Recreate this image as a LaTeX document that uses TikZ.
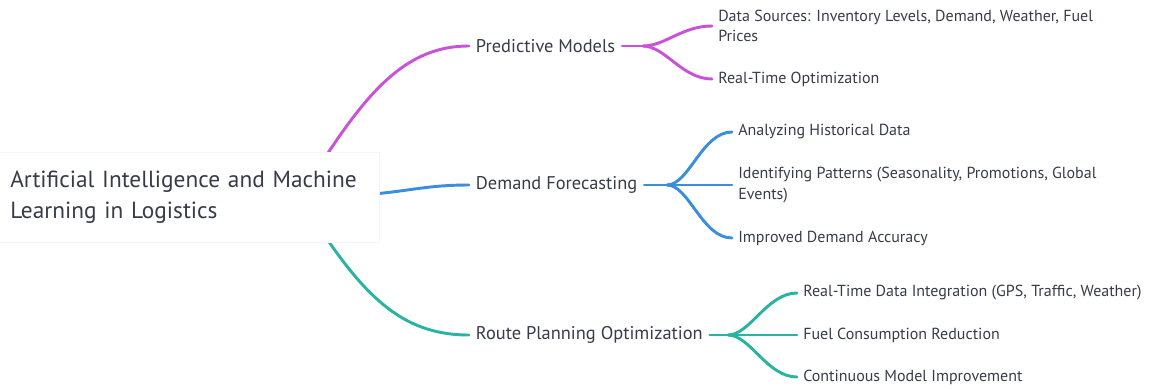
\documentclass[tikz,border=0pt]{standalone}
\usepackage{fontspec}
\setmainfont{PT Sans}
\usepackage{xcolor}
\usetikzlibrary{backgrounds}
\definecolor{txtgray}{HTML}{363C48}
\definecolor{pmcol}{HTML}{C852D8}
\definecolor{dfcol}{HTML}{3A8EDB}
\definecolor{rpcol}{HTML}{2AB3A0}
\tikzset{every node/.append style={text=txtgray, inner sep=0pt},
  rootbox/.style={anchor=west, fill=white, draw=gray!7, text width=268pt, align=left,
    inner xsep=9pt, minimum height=67.5pt, font=\fontsize{17.5}{23}\selectfont},
  topic/.style={anchor=west, inner xsep=5pt, font=\fontsize{13.8}{15}\selectfont},
  leaf/.style={anchor=west, align=left, inner xsep=4.5pt, font=\fontsize{12}{15.5}\selectfont},
  branch/.style={line width=2.2pt, line cap=round}}

\begin{document}
\begin{tikzpicture}[x=0.75pt, y=-0.75pt]
    \useasboundingbox (0,0) rectangle (1151,389);
    % root
    \node[rootbox] (root) at (-2,197) {Artificial Intelligence and Machine\\Learning in Logistics};
    \coordinate (hub) at (300,197);
    % first level
    \node[topic] (pm) at (469,46) {Predictive Models};
    \node[topic] (df) at (469,185) {Demand Forecasting};
    \node[topic] (rp) at (469,335) {Route Planning Optimization};
    % leaves
    \node[leaf] (ds) at (712,26) {Data Sources: Inventory Levels, Demand, Weather, Fuel\\Prices};
    \node[leaf] (rt) at (712,79) {Real-Time Optimization};
    \node[leaf] (ah) at (732,132) {Analyzing Historical Data};
    \node[leaf] (ip) at (732,185) {Identifying Patterns (Seasonality, Promotions, Global\\Events)};
    \node[leaf] (ida) at (732,238) {Improved Demand Accuracy};
    \node[leaf] (rd) at (797,293) {Real-Time Data Integration (GPS, Traffic, Weather)};
    \node[leaf] (fc) at (797,335) {Fuel Consumption Reduction};
    \node[leaf] (cm) at (797,377) {Continuous Model Improvement};
    \coordinate (pmfork) at (643,46);
    \coordinate (dffork) at (667,185);
    \coordinate (rpfork) at (728,335);
    \begin{scope}[on background layer]
        \draw[branch, pmcol] (hub) .. controls (360,100) and (400,46) .. (pm.west);
        \draw[branch, dfcol] (hub) .. controls (400,197) and (410,185) .. (df.west);
        \draw[branch, rpcol] (hub) .. controls (360,295) and (400,335) .. (rp.west);
    \end{scope}
    % sub branches
    \draw[branch, pmcol] (pm.east) -- (pmfork);
    \foreach \leaf in {ds, rt}
        \draw[branch, pmcol] (pmfork) .. controls +(22,0) and +(-30,0) .. (\leaf.west);
    \draw[branch, dfcol] (df.east) -- (dffork);
    \foreach \leaf in {ah, ip, ida}
        \draw[branch, dfcol] (dffork) .. controls +(22,0) and +(-30,0) .. (\leaf.west);
    \draw[branch, rpcol] (rp.east) -- (rpfork);
    \foreach \leaf in {rd, fc, cm}
        \draw[branch, rpcol] (rpfork) .. controls +(22,0) and +(-30,0) .. (\leaf.west);
\end{tikzpicture}
\end{document}
